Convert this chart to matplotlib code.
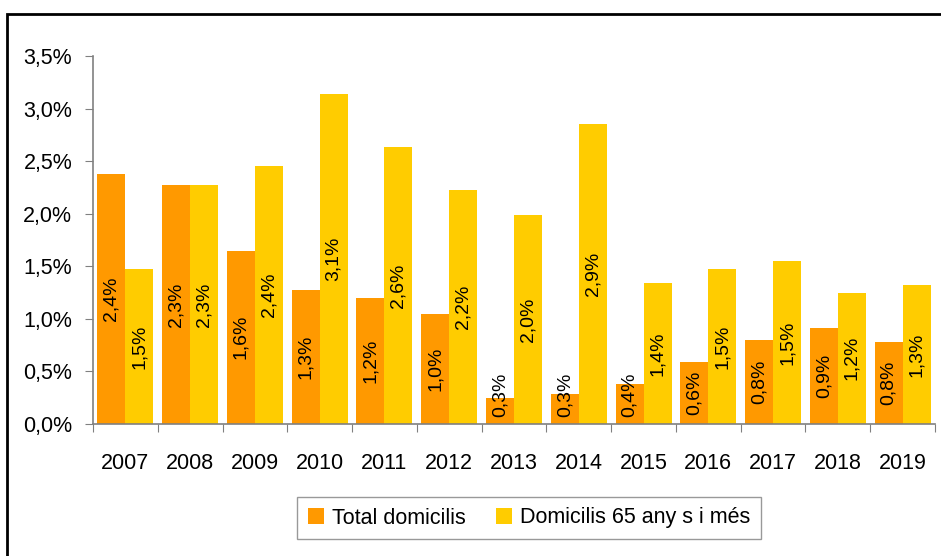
import matplotlib.pyplot as plt
from matplotlib.patches import Rectangle

anys = ["2007", "2008", "2009", "2010", "2011", "2012", "2013",
        "2014", "2015", "2016", "2017", "2018", "2019"]
total = [2.38, 2.27, 1.65, 1.27, 1.20, 1.05, 0.25, 0.29, 0.38, 0.59, 0.80, 0.91, 0.78]
grans = [1.47, 2.27, 2.45, 3.14, 2.63, 2.23, 1.99, 2.85, 1.34, 1.47, 1.55, 1.25, 1.32]
etiq_total = ["2,4%", "2,3%", "1,6%", "1,3%", "1,2%", "1,0%", "0,3%",
              "0,3%", "0,4%", "0,6%", "0,8%", "0,9%", "0,8%"]
etiq_grans = ["1,5%", "2,3%", "2,4%", "3,1%", "2,6%", "2,2%", "2,0%",
              "2,9%", "1,4%", "1,5%", "1,5%", "1,2%", "1,3%"]
yticks = [0, 0.5, 1.0, 1.5, 2.0, 2.5, 3.0, 3.5]

taronja = "#FF9900"
groc = "#FFCC00"
gris = "#808080"

plt.rcParams['font.family'] = ['Liberation Sans', 'DejaVu Sans']
mida = 15.5
mida_etiq = 14

fig = plt.figure(figsize=(9.41, 5.56), dpi=100)
ax = fig.add_axes([93 / 941, 1 - 424 / 556, (935 - 93) / 941, (424 - 56) / 556])

x = list(range(len(anys)))
w = 0.432
ax.bar([i - w / 2 for i in x], total, width=w, color=taronja, label="Total domicilis")
ax.bar([i + w / 2 for i in x], grans, width=w, color=groc, label="Domicilis 65 any s i més")

# etiquetes de dades, al centre de la barra (sense baixar de l'eix)
for i in x:
    ax.text(i - w / 2, max(total[i] / 2, 0.28), etiq_total[i], rotation=90,
            ha="center", va="center", fontsize=mida_etiq)
    ax.text(i + w / 2, max(grans[i] / 2, 0.28), etiq_grans[i], rotation=90,
            ha="center", va="center", fontsize=mida_etiq)

ax.set_xlim(-0.5, len(anys) - 0.5)
ax.set_ylim(0, 3.5)
ax.set_yticks(yticks)
ax.set_yticklabels([f"{v:.1f}%".replace(".", ",") for v in yticks], fontsize=mida)

ax.set_xticks([i - 0.5 for i in range(len(anys) + 1)])
ax.set_xticklabels([])
ax.set_xticks(x, minor=True)
ax.set_xticklabels(anys, minor=True, fontsize=mida)
ax.tick_params(axis="x", which="minor", length=0, pad=21)
ax.tick_params(axis="x", which="major", length=6, color=gris, direction="out")
ax.tick_params(axis="y", length=6, color=gris, direction="out", pad=9)

for s in ["top", "right"]:
    ax.spines[s].set_visible(False)
for s in ["left", "bottom"]:
    ax.spines[s].set_color(gris)
    ax.spines[s].set_linewidth(1.2)

leg = fig.legend(loc="center", bbox_to_anchor=(529 / 941, 1 - 518 / 556), ncol=2,
                 fontsize=mida, frameon=True, fancybox=False, edgecolor=gris,
                 handlelength=0.76, handleheight=0.76, handletextpad=0.35,
                 columnspacing=1.4, borderpad=0.5)
leg.get_frame().set_linewidth(1.0)

# marc de la figura
fig.patches.append(Rectangle((7 / 941, -0.1), 1.2, 1.1 - 13.5 / 556, transform=fig.transFigure,
                             fill=False, edgecolor="black", linewidth=2))

fig.savefig("out.png", dpi=100)
